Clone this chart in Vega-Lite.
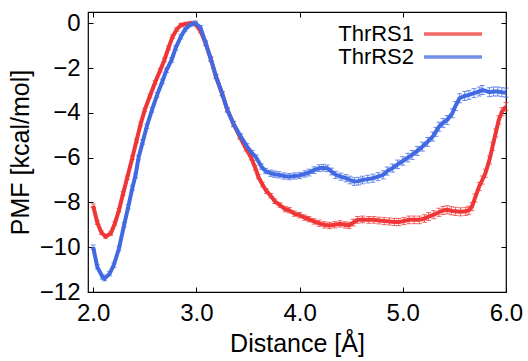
{
  "$schema": "https://vega.github.io/schema/vega-lite/v6.json",
  "width": 418,
  "height": 280,
  "autosize": "none",
  "padding": {"left": 88, "top": 12, "right": 22, "bottom": 69},
  "background": "white",
  "config": {
    "font": "Liberation Sans",
    "view": {"stroke": "black", "strokeWidth": 1.2},
    "axis": {"domain": false, "grid": false, "tickColor": "black", "tickSize": -5, "tickWidth": 1, "labelColor": "black", "labelFontSize": 24, "titleFontSize": 25, "titleFontWeight": "normal", "titleColor": "black", "labelFont": "Liberation Sans", "titleFont": "Liberation Sans", "labelFlush": false, "labelOverlap": false},
    "legend": {"title": null, "orient": "none", "legendX": 354, "legendY": 11, "symbolType": "M-5,0H5", "symbolSize": 135, "symbolStrokeWidth": 3.5, "labelFontSize": 22, "labelAlign": "right", "labelOffset": -50, "labelColor": "black", "rowPadding": 1, "padding": 0, "labelFont": "Liberation Sans"}
  },
  "datasets": {
    "pmf": [
      {"d": 2.00, "pmf": -8.15, "err": 0.08, "s": "ThrRS1"},
      {"d": 2.04, "pmf": -8.9, "err": 0.08, "s": "ThrRS1"},
      {"d": 2.08, "pmf": -9.35, "err": 0.08, "s": "ThrRS1"},
      {"d": 2.12, "pmf": -9.52, "err": 0.08, "s": "ThrRS1"},
      {"d": 2.17, "pmf": -9.39, "err": 0.08, "s": "ThrRS1"},
      {"d": 2.21, "pmf": -8.94, "err": 0.08, "s": "ThrRS1"},
      {"d": 2.25, "pmf": -8.35, "err": 0.08, "s": "ThrRS1"},
      {"d": 2.29, "pmf": -7.6, "err": 0.08, "s": "ThrRS1"},
      {"d": 2.33, "pmf": -6.9, "err": 0.08, "s": "ThrRS1"},
      {"d": 2.38, "pmf": -6.0, "err": 0.08, "s": "ThrRS1"},
      {"d": 2.42, "pmf": -5.25, "err": 0.08, "s": "ThrRS1"},
      {"d": 2.46, "pmf": -4.5, "err": 0.08, "s": "ThrRS1"},
      {"d": 2.50, "pmf": -3.87, "err": 0.08, "s": "ThrRS1"},
      {"d": 2.55, "pmf": -3.25, "err": 0.08, "s": "ThrRS1"},
      {"d": 2.60, "pmf": -2.65, "err": 0.08, "s": "ThrRS1"},
      {"d": 2.65, "pmf": -2.1, "err": 0.08, "s": "ThrRS1"},
      {"d": 2.69, "pmf": -1.64, "err": 0.08, "s": "ThrRS1"},
      {"d": 2.73, "pmf": -1.1, "err": 0.08, "s": "ThrRS1"},
      {"d": 2.77, "pmf": -0.6, "err": 0.08, "s": "ThrRS1"},
      {"d": 2.81, "pmf": -0.28, "err": 0.08, "s": "ThrRS1"},
      {"d": 2.85, "pmf": -0.08, "err": 0.08, "s": "ThrRS1"},
      {"d": 2.90, "pmf": -0.03, "err": 0.08, "s": "ThrRS1"},
      {"d": 2.95, "pmf": 0.0, "err": 0.08, "s": "ThrRS1"},
      {"d": 2.99, "pmf": -0.04, "err": 0.08, "s": "ThrRS1"},
      {"d": 3.04, "pmf": -0.35, "err": 0.08, "s": "ThrRS1"},
      {"d": 3.09, "pmf": -0.89, "err": 0.08, "s": "ThrRS1"},
      {"d": 3.14, "pmf": -1.6, "err": 0.08, "s": "ThrRS1"},
      {"d": 3.19, "pmf": -2.38, "err": 0.08, "s": "ThrRS1"},
      {"d": 3.25, "pmf": -3.15, "err": 0.08, "s": "ThrRS1"},
      {"d": 3.30, "pmf": -3.87, "err": 0.08, "s": "ThrRS1"},
      {"d": 3.36, "pmf": -4.5, "err": 0.1, "s": "ThrRS1"},
      {"d": 3.42, "pmf": -5.06, "err": 0.1, "s": "ThrRS1"},
      {"d": 3.48, "pmf": -5.6, "err": 0.1, "s": "ThrRS1"},
      {"d": 3.53, "pmf": -6.0, "err": 0.1, "s": "ThrRS1"},
      {"d": 3.57, "pmf": -6.45, "err": 0.1, "s": "ThrRS1"},
      {"d": 3.60, "pmf": -6.85, "err": 0.1, "s": "ThrRS1"},
      {"d": 3.64, "pmf": -7.2, "err": 0.1, "s": "ThrRS1"},
      {"d": 3.68, "pmf": -7.5, "err": 0.1, "s": "ThrRS1"},
      {"d": 3.72, "pmf": -7.7, "err": 0.1, "s": "ThrRS1"},
      {"d": 3.76, "pmf": -7.95, "err": 0.1, "s": "ThrRS1"},
      {"d": 3.81, "pmf": -8.12, "err": 0.1, "s": "ThrRS1"},
      {"d": 3.86, "pmf": -8.3, "err": 0.12, "s": "ThrRS1"},
      {"d": 3.90, "pmf": -8.35, "err": 0.12, "s": "ThrRS1"},
      {"d": 3.95, "pmf": -8.5, "err": 0.12, "s": "ThrRS1"},
      {"d": 4.00, "pmf": -8.57, "err": 0.12, "s": "ThrRS1"},
      {"d": 4.05, "pmf": -8.68, "err": 0.12, "s": "ThrRS1"},
      {"d": 4.09, "pmf": -8.75, "err": 0.12, "s": "ThrRS1"},
      {"d": 4.14, "pmf": -8.85, "err": 0.12, "s": "ThrRS1"},
      {"d": 4.19, "pmf": -8.93, "err": 0.14, "s": "ThrRS1"},
      {"d": 4.24, "pmf": -9.0, "err": 0.14, "s": "ThrRS1"},
      {"d": 4.29, "pmf": -9.03, "err": 0.14, "s": "ThrRS1"},
      {"d": 4.34, "pmf": -9.0, "err": 0.14, "s": "ThrRS1"},
      {"d": 4.39, "pmf": -8.96, "err": 0.14, "s": "ThrRS1"},
      {"d": 4.44, "pmf": -9.0, "err": 0.14, "s": "ThrRS1"},
      {"d": 4.48, "pmf": -9.03, "err": 0.14, "s": "ThrRS1"},
      {"d": 4.52, "pmf": -8.9, "err": 0.15, "s": "ThrRS1"},
      {"d": 4.56, "pmf": -8.78, "err": 0.15, "s": "ThrRS1"},
      {"d": 4.61, "pmf": -8.76, "err": 0.15, "s": "ThrRS1"},
      {"d": 4.67, "pmf": -8.78, "err": 0.15, "s": "ThrRS1"},
      {"d": 4.72, "pmf": -8.78, "err": 0.15, "s": "ThrRS1"},
      {"d": 4.77, "pmf": -8.81, "err": 0.15, "s": "ThrRS1"},
      {"d": 4.82, "pmf": -8.83, "err": 0.16, "s": "ThrRS1"},
      {"d": 4.87, "pmf": -8.85, "err": 0.16, "s": "ThrRS1"},
      {"d": 4.92, "pmf": -8.87, "err": 0.16, "s": "ThrRS1"},
      {"d": 4.96, "pmf": -8.88, "err": 0.16, "s": "ThrRS1"},
      {"d": 5.01, "pmf": -8.83, "err": 0.16, "s": "ThrRS1"},
      {"d": 5.06, "pmf": -8.78, "err": 0.17, "s": "ThrRS1"},
      {"d": 5.11, "pmf": -8.78, "err": 0.17, "s": "ThrRS1"},
      {"d": 5.16, "pmf": -8.78, "err": 0.17, "s": "ThrRS1"},
      {"d": 5.21, "pmf": -8.72, "err": 0.17, "s": "ThrRS1"},
      {"d": 5.25, "pmf": -8.63, "err": 0.18, "s": "ThrRS1"},
      {"d": 5.30, "pmf": -8.55, "err": 0.18, "s": "ThrRS1"},
      {"d": 5.35, "pmf": -8.44, "err": 0.18, "s": "ThrRS1"},
      {"d": 5.39, "pmf": -8.36, "err": 0.18, "s": "ThrRS1"},
      {"d": 5.43, "pmf": -8.33, "err": 0.18, "s": "ThrRS1"},
      {"d": 5.47, "pmf": -8.37, "err": 0.18, "s": "ThrRS1"},
      {"d": 5.51, "pmf": -8.4, "err": 0.18, "s": "ThrRS1"},
      {"d": 5.56, "pmf": -8.42, "err": 0.18, "s": "ThrRS1"},
      {"d": 5.61, "pmf": -8.4, "err": 0.18, "s": "ThrRS1"},
      {"d": 5.64, "pmf": -8.35, "err": 0.18, "s": "ThrRS1"},
      {"d": 5.67, "pmf": -8.19, "err": 0.18, "s": "ThrRS1"},
      {"d": 5.70, "pmf": -7.8, "err": 0.18, "s": "ThrRS1"},
      {"d": 5.74, "pmf": -7.29, "err": 0.18, "s": "ThrRS1"},
      {"d": 5.77, "pmf": -7.0, "err": 0.18, "s": "ThrRS1"},
      {"d": 5.80, "pmf": -6.7, "err": 0.18, "s": "ThrRS1"},
      {"d": 5.84, "pmf": -6.1, "err": 0.18, "s": "ThrRS1"},
      {"d": 5.87, "pmf": -5.5, "err": 0.18, "s": "ThrRS1"},
      {"d": 5.90, "pmf": -4.9, "err": 0.18, "s": "ThrRS1"},
      {"d": 5.93, "pmf": -4.32, "err": 0.18, "s": "ThrRS1"},
      {"d": 5.96, "pmf": -3.95, "err": 0.18, "s": "ThrRS1"},
      {"d": 6.00, "pmf": -3.72, "err": 0.18, "s": "ThrRS1"},
      {"d": 2.00, "pmf": -10.0, "err": 0.1, "s": "ThrRS2"},
      {"d": 2.04, "pmf": -10.88, "err": 0.1, "s": "ThrRS2"},
      {"d": 2.09, "pmf": -11.33, "err": 0.1, "s": "ThrRS2"},
      {"d": 2.11, "pmf": -11.4, "err": 0.1, "s": "ThrRS2"},
      {"d": 2.16, "pmf": -11.18, "err": 0.1, "s": "ThrRS2"},
      {"d": 2.20, "pmf": -10.8, "err": 0.1, "s": "ThrRS2"},
      {"d": 2.25, "pmf": -10.06, "err": 0.1, "s": "ThrRS2"},
      {"d": 2.30, "pmf": -9.0, "err": 0.1, "s": "ThrRS2"},
      {"d": 2.34, "pmf": -8.2, "err": 0.1, "s": "ThrRS2"},
      {"d": 2.38, "pmf": -7.35, "err": 0.1, "s": "ThrRS2"},
      {"d": 2.41, "pmf": -6.8, "err": 0.1, "s": "ThrRS2"},
      {"d": 2.44, "pmf": -6.0, "err": 0.1, "s": "ThrRS2"},
      {"d": 2.48, "pmf": -5.3, "err": 0.1, "s": "ThrRS2"},
      {"d": 2.52, "pmf": -4.6, "err": 0.1, "s": "ThrRS2"},
      {"d": 2.57, "pmf": -3.87, "err": 0.1, "s": "ThrRS2"},
      {"d": 2.62, "pmf": -3.2, "err": 0.1, "s": "ThrRS2"},
      {"d": 2.67, "pmf": -2.6, "err": 0.1, "s": "ThrRS2"},
      {"d": 2.71, "pmf": -2.1, "err": 0.1, "s": "ThrRS2"},
      {"d": 2.76, "pmf": -1.64, "err": 0.1, "s": "ThrRS2"},
      {"d": 2.80, "pmf": -1.1, "err": 0.1, "s": "ThrRS2"},
      {"d": 2.85, "pmf": -0.6, "err": 0.1, "s": "ThrRS2"},
      {"d": 2.89, "pmf": -0.28, "err": 0.1, "s": "ThrRS2"},
      {"d": 2.94, "pmf": -0.06, "err": 0.1, "s": "ThrRS2"},
      {"d": 2.99, "pmf": 0.0, "err": 0.1, "s": "ThrRS2"},
      {"d": 3.04, "pmf": -0.2, "err": 0.1, "s": "ThrRS2"},
      {"d": 3.09, "pmf": -0.89, "err": 0.1, "s": "ThrRS2"},
      {"d": 3.14, "pmf": -1.6, "err": 0.1, "s": "ThrRS2"},
      {"d": 3.19, "pmf": -2.38, "err": 0.1, "s": "ThrRS2"},
      {"d": 3.25, "pmf": -3.15, "err": 0.1, "s": "ThrRS2"},
      {"d": 3.30, "pmf": -3.87, "err": 0.1, "s": "ThrRS2"},
      {"d": 3.36, "pmf": -4.5, "err": 0.12, "s": "ThrRS2"},
      {"d": 3.43, "pmf": -5.06, "err": 0.12, "s": "ThrRS2"},
      {"d": 3.49, "pmf": -5.5, "err": 0.12, "s": "ThrRS2"},
      {"d": 3.54, "pmf": -5.8, "err": 0.12, "s": "ThrRS2"},
      {"d": 3.58, "pmf": -6.0, "err": 0.12, "s": "ThrRS2"},
      {"d": 3.63, "pmf": -6.4, "err": 0.12, "s": "ThrRS2"},
      {"d": 3.67, "pmf": -6.6, "err": 0.12, "s": "ThrRS2"},
      {"d": 3.72, "pmf": -6.7, "err": 0.14, "s": "ThrRS2"},
      {"d": 3.76, "pmf": -6.74, "err": 0.14, "s": "ThrRS2"},
      {"d": 3.80, "pmf": -6.77, "err": 0.14, "s": "ThrRS2"},
      {"d": 3.85, "pmf": -6.82, "err": 0.14, "s": "ThrRS2"},
      {"d": 3.90, "pmf": -6.85, "err": 0.14, "s": "ThrRS2"},
      {"d": 3.95, "pmf": -6.82, "err": 0.14, "s": "ThrRS2"},
      {"d": 4.00, "pmf": -6.8, "err": 0.14, "s": "ThrRS2"},
      {"d": 4.05, "pmf": -6.73, "err": 0.14, "s": "ThrRS2"},
      {"d": 4.09, "pmf": -6.67, "err": 0.15, "s": "ThrRS2"},
      {"d": 4.14, "pmf": -6.56, "err": 0.15, "s": "ThrRS2"},
      {"d": 4.19, "pmf": -6.47, "err": 0.15, "s": "ThrRS2"},
      {"d": 4.23, "pmf": -6.45, "err": 0.15, "s": "ThrRS2"},
      {"d": 4.27, "pmf": -6.48, "err": 0.15, "s": "ThrRS2"},
      {"d": 4.31, "pmf": -6.62, "err": 0.15, "s": "ThrRS2"},
      {"d": 4.35, "pmf": -6.77, "err": 0.16, "s": "ThrRS2"},
      {"d": 4.40, "pmf": -6.85, "err": 0.16, "s": "ThrRS2"},
      {"d": 4.45, "pmf": -6.92, "err": 0.16, "s": "ThrRS2"},
      {"d": 4.49, "pmf": -7.0, "err": 0.17, "s": "ThrRS2"},
      {"d": 4.53, "pmf": -7.07, "err": 0.17, "s": "ThrRS2"},
      {"d": 4.57, "pmf": -7.05, "err": 0.17, "s": "ThrRS2"},
      {"d": 4.61, "pmf": -7.0, "err": 0.17, "s": "ThrRS2"},
      {"d": 4.66, "pmf": -6.96, "err": 0.17, "s": "ThrRS2"},
      {"d": 4.71, "pmf": -6.92, "err": 0.18, "s": "ThrRS2"},
      {"d": 4.76, "pmf": -6.85, "err": 0.18, "s": "ThrRS2"},
      {"d": 4.81, "pmf": -6.77, "err": 0.18, "s": "ThrRS2"},
      {"d": 4.85, "pmf": -6.6, "err": 0.18, "s": "ThrRS2"},
      {"d": 4.90, "pmf": -6.47, "err": 0.18, "s": "ThrRS2"},
      {"d": 4.95, "pmf": -6.3, "err": 0.19, "s": "ThrRS2"},
      {"d": 5.00, "pmf": -6.15, "err": 0.19, "s": "ThrRS2"},
      {"d": 5.05, "pmf": -6.0, "err": 0.19, "s": "ThrRS2"},
      {"d": 5.09, "pmf": -5.88, "err": 0.2, "s": "ThrRS2"},
      {"d": 5.14, "pmf": -5.7, "err": 0.2, "s": "ThrRS2"},
      {"d": 5.19, "pmf": -5.51, "err": 0.2, "s": "ThrRS2"},
      {"d": 5.24, "pmf": -5.3, "err": 0.2, "s": "ThrRS2"},
      {"d": 5.29, "pmf": -5.06, "err": 0.2, "s": "ThrRS2"},
      {"d": 5.32, "pmf": -4.85, "err": 0.2, "s": "ThrRS2"},
      {"d": 5.35, "pmf": -4.62, "err": 0.2, "s": "ThrRS2"},
      {"d": 5.39, "pmf": -4.45, "err": 0.2, "s": "ThrRS2"},
      {"d": 5.43, "pmf": -4.32, "err": 0.2, "s": "ThrRS2"},
      {"d": 5.48, "pmf": -4.02, "err": 0.2, "s": "ThrRS2"},
      {"d": 5.51, "pmf": -3.7, "err": 0.2, "s": "ThrRS2"},
      {"d": 5.55, "pmf": -3.35, "err": 0.2, "s": "ThrRS2"},
      {"d": 5.60, "pmf": -3.25, "err": 0.2, "s": "ThrRS2"},
      {"d": 5.64, "pmf": -3.2, "err": 0.2, "s": "ThrRS2"},
      {"d": 5.69, "pmf": -3.12, "err": 0.2, "s": "ThrRS2"},
      {"d": 5.74, "pmf": -3.05, "err": 0.2, "s": "ThrRS2"},
      {"d": 5.77, "pmf": -2.98, "err": 0.2, "s": "ThrRS2"},
      {"d": 5.84, "pmf": -3.08, "err": 0.2, "s": "ThrRS2"},
      {"d": 5.88, "pmf": -3.05, "err": 0.2, "s": "ThrRS2"},
      {"d": 5.92, "pmf": -3.05, "err": 0.2, "s": "ThrRS2"},
      {"d": 5.96, "pmf": -3.08, "err": 0.2, "s": "ThrRS2"},
      {"d": 6.00, "pmf": -3.1, "err": 0.2, "s": "ThrRS2"}
    ]
  },
  "data": {"name": "pmf"},
  "resolve": {"axis": {"x": "independent", "y": "independent"}},
  "layer": [
    {
      "mark": {"type": "errorbar", "ticks": {"size": 5}, "thickness": 1, "opacity": 0.75},
      "encoding": {
        "x": {"field": "d", "type": "quantitative", "scale": {"domain": [1.95, 6.0], "nice": false, "zero": false}, "axis": null},
        "y": {"field": "pmf", "type": "quantitative", "scale": {"domain": [-12, 0.5], "nice": false, "zero": false}, "axis": null},
        "yError": {"field": "err"},
        "color": {"field": "s", "type": "nominal", "scale": {"domain": ["ThrRS1", "ThrRS2"], "range": ["#ef3535", "#4169e1"]}, "legend": {}}
      }
    },
    {
      "mark": {"type": "line", "strokeWidth": 4, "clip": true},
      "encoding": {
        "x": {"field": "d", "type": "quantitative", "scale": {"domain": [1.95, 6.0], "nice": false, "zero": false},
              "axis": {"values": [2, 3, 4, 5, 6], "format": ".1f", "title": "Distance [Å]", "labelPadding": 14, "titlePadding": 6}},
        "y": {"field": "pmf", "type": "quantitative", "scale": {"domain": [-12, 0.5], "nice": false, "zero": false},
              "axis": {"values": [0, -2, -4, -6, -8, -10, -12], "format": "d", "title": "PMF [kcal/mol]", "labelPadding": 13, "titlePadding": 6}},
        "color": {"field": "s", "type": "nominal", "scale": {"domain": ["ThrRS1", "ThrRS2"], "range": ["#ef3535", "#4169e1"]}, "legend": {}}
      }
    },
    {
      "mark": {"type": "line", "opacity": 0},
      "encoding": {
        "x": {"field": "d", "type": "quantitative", "scale": {"domain": [1.95, 6.0], "nice": false, "zero": false},
              "axis": {"orient": "top", "values": [2, 3, 4, 5, 6], "labels": false, "title": null}},
        "y": {"field": "pmf", "type": "quantitative", "scale": {"domain": [-12, 0.5], "nice": false, "zero": false},
              "axis": {"orient": "right", "values": [0, -2, -4, -6, -8, -10, -12], "labels": false, "title": null}},
        "detail": {"field": "s", "type": "nominal"}
      }
    }
  ]
}
